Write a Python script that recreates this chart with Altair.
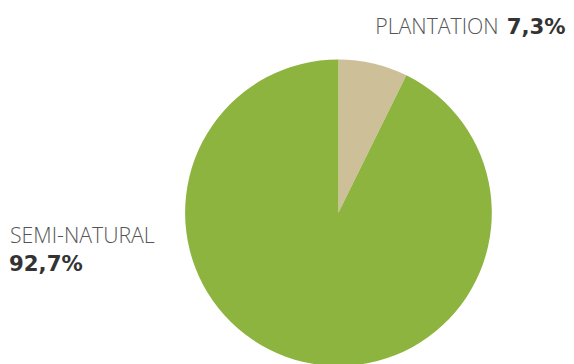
import altair as alt
import pandas as pd

categories = ["PLANTATION", "SEMI-NATURAL"]
values = [7.3, 92.7]
colors = ["#cdbf98", "#8db43e"]
order = [0, 1]

pct_labels = [f"{v:.1f}".replace(".", ",") + "%" for v in values]

df = pd.DataFrame({"cat": categories, "val": values, "ord": order})

W, H = 558, 356
CX, CY, R = 334, 205, 155

pie = alt.Chart(df).mark_arc(radius=R, stroke=None).encode(
    theta=alt.Theta("val:Q", stack=True),
    order=alt.Order("ord:Q"),
    color=alt.Color("cat:N", scale=alt.Scale(domain=categories, range=colors), legend=None),
    x=alt.value(CX),
    y=alt.value(CY),
)

def txt(s, x, y, style, align):
    font, weight, color, size = style
    d = pd.DataFrame({"t": [s]})
    return alt.Chart(d).mark_text(
        font=font, fontSize=size, fontWeight=weight, align=align,
        baseline="alphabetic", color=color
    ).encode(text="t:N", x=alt.value(x), y=alt.value(y))

LIGHT = ("Open Sans", 300, "#555555", 21.5)
BOLD = ("DejaVu Sans", "bold", "#333333", 21.5)

layers = [
    pie,
    txt(categories[0], 496, 24, LIGHT, "right"),
    txt(pct_labels[0], 504, 24, BOLD, "left"),
    txt(categories[1], 2, 236, LIGHT, "left"),
    txt(pct_labels[1], 1, 264, BOLD, "left"),
]

chart = alt.layer(*layers).properties(
    width=W, height=H, padding=0
).configure_view(stroke=None)

chart.save("out.html", embed_options={"renderer": "svg", "actions": False})
